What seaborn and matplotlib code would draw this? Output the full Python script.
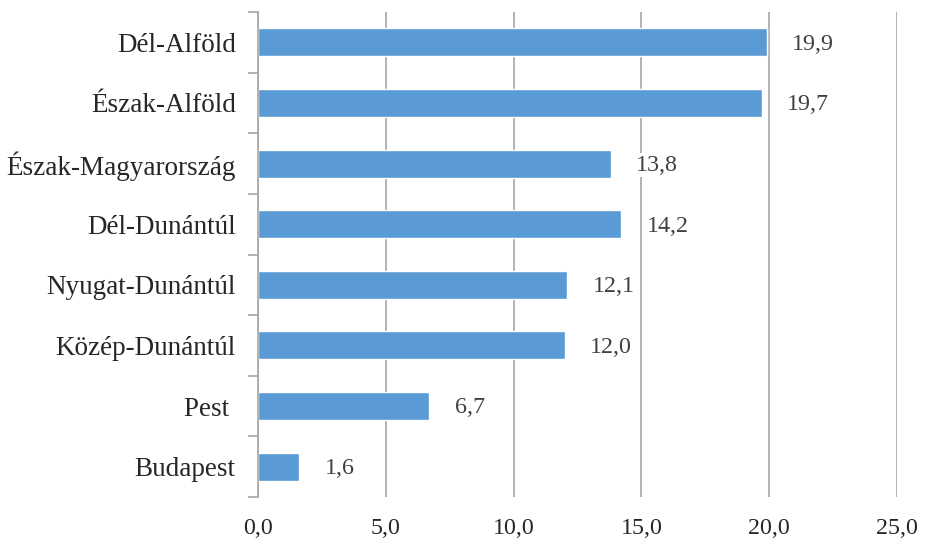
import pandas as pd
import numpy as np
import matplotlib
matplotlib.use('Agg')
import matplotlib.pyplot as plt
import seaborn as sns

regions = ['Dél-Alföld', 'Észak-Alföld', 'Észak-Magyarország', 'Dél-Dunántúl',
           'Nyugat-Dunántúl', 'Közép-Dunántúl', 'Pest ', 'Budapest']
values = [19.9, 19.7, 13.8, 14.2, 12.1, 12.0, 6.7, 1.6]
xticks = [0, 5, 10, 15, 20, 25]

df = pd.DataFrame({'region': regions, 'value': values})

sns.set_style('white')
plt.rcParams['font.family'] = ['Liberation Serif', 'DejaVu Serif']

fig = plt.figure(figsize=(9.26, 5.42), dpi=100)
ax = fig.add_axes([258 / 926, 1 - 497 / 542, (897 - 258) / 926, (497 - 12) / 542])

sns.barplot(data=df, x='value', y='region', orient='h', color='#5B9BD5',
            saturation=1, width=0.46, ax=ax)

ax.set_xlim(0, 25)
ax.set_ylim(len(regions) - 0.5, -0.5)
ax.set_xticks(xticks)
ax.set_xticklabels([f'{t:.1f}'.replace('.', ',') for t in xticks])
ax.grid(axis='x', color='#a6a6a6', linewidth=1.2)
ax.grid(axis='y', visible=False)
ax.set_axisbelow(True)

for s in ['top', 'right', 'bottom']:
    ax.spines[s].set_visible(False)
ax.spines['left'].set_color('#a6a6a6')
ax.spines['left'].set_linewidth(1.2)

ax.set_yticks(np.arange(-0.5, len(regions), 1), minor=True)
ax.tick_params(axis='y', which='minor', length=7, width=1.2, color='#a6a6a6', left=True)
ax.tick_params(axis='y', which='major', length=0, pad=16, labelsize=19.5)
ax.tick_params(axis='x', length=0, pad=15, labelsize=17.3)
ax.set_xlabel('')
ax.set_ylabel('')

for i, v in enumerate(values):
    ax.text(v + 1.0, i + 0.03, f'{v:.1f}'.replace('.', ','), va='center', ha='left',
            fontsize=17.3, color='#404040',
            bbox=dict(facecolor='white', edgecolor='none', pad=1))

fig.savefig('out.png', dpi=100)
